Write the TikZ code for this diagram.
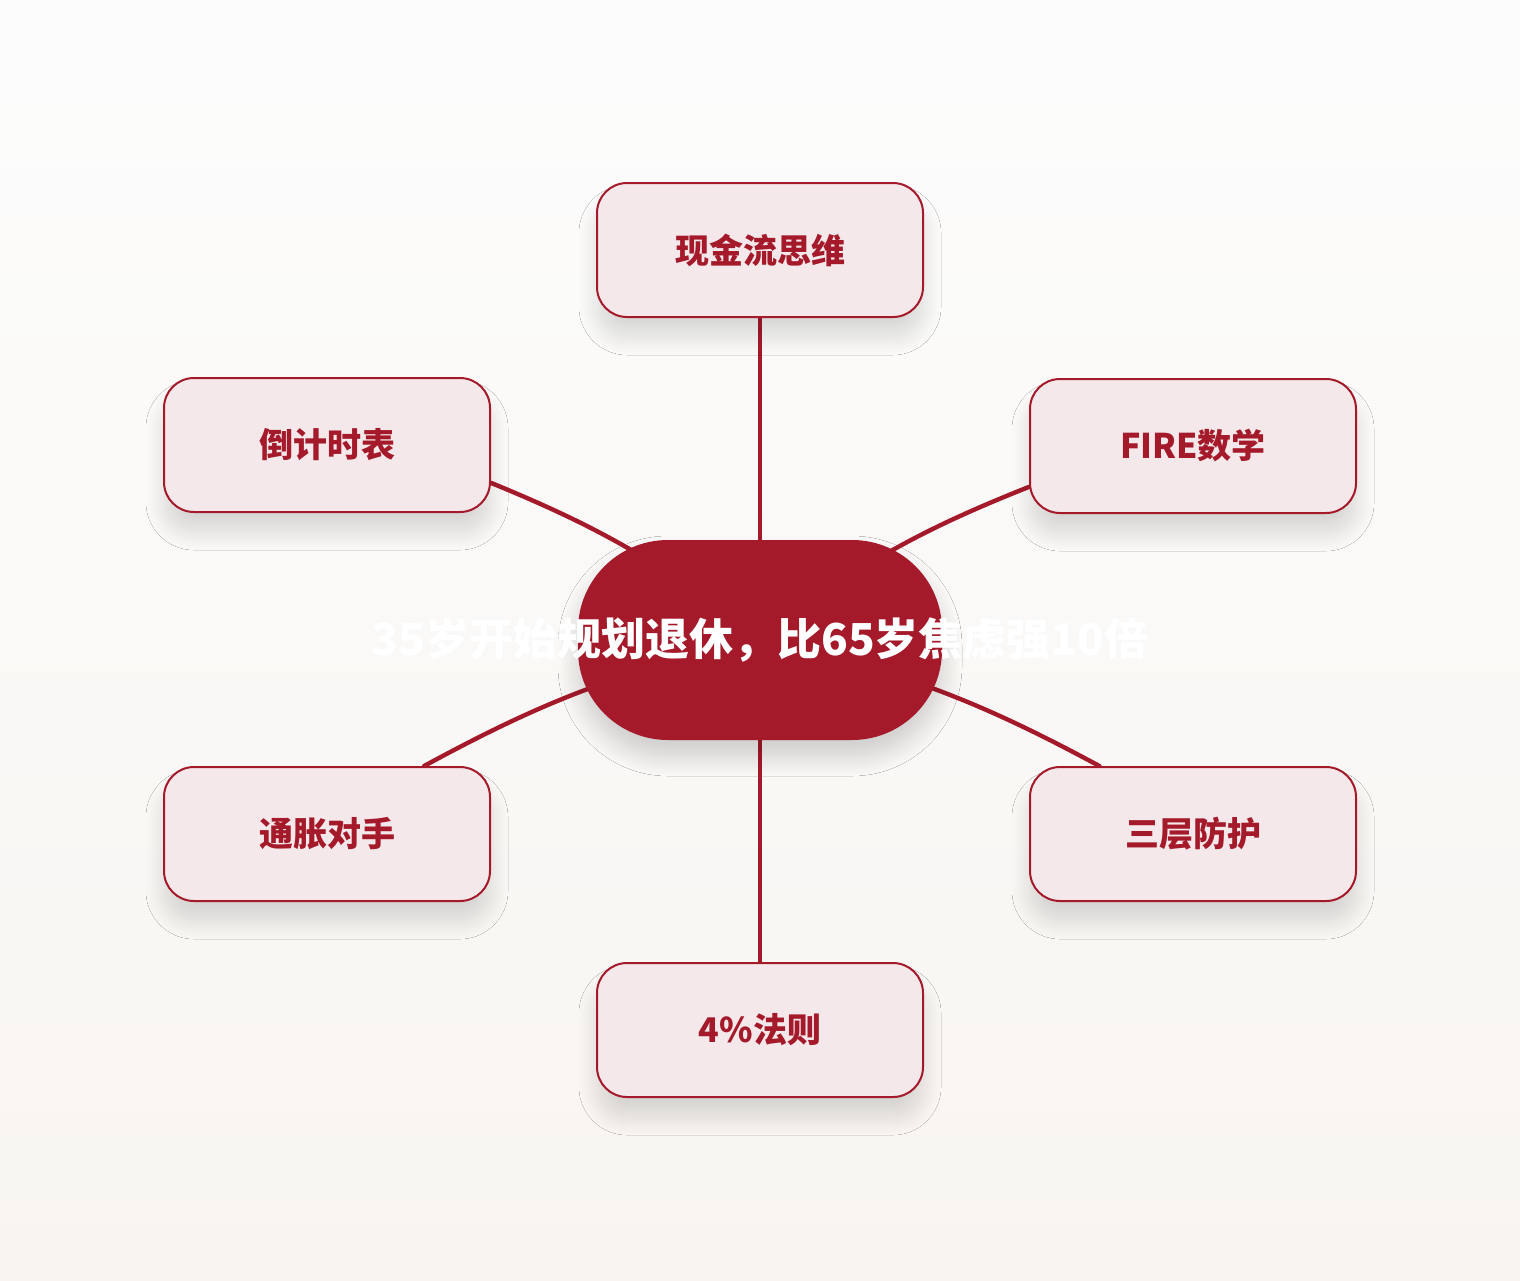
\documentclass[tikz,border=0pt]{standalone}
\usepackage{fontspec}
\setmainfont{Noto Sans CJK SC}
\usetikzlibrary{shadows.blur,backgrounds}
\definecolor{deepred}{HTML}{A51A2A}
\definecolor{palepink}{HTML}{F5E8EB}
\tikzset{idea box/.style={
    draw=deepred, line width=1pt, fill=palepink, rounded corners=15pt,
    minimum width=163pt, minimum height=67pt, inner sep=0pt,
    text=deepred, font=\fontsize{17}{20}\selectfont\bfseries,
    blur shadow={shadow xshift=0pt, shadow yshift=-10pt,
      shadow blur radius=9pt, shadow blur steps=16, shadow opacity=14},
  },
  hub/.style={
    fill=deepred, rounded corners=45pt,
    minimum width=182pt, minimum height=100pt, inner sep=0pt,
    text=white, font=\fontsize{22}{26}\selectfont\bfseries,
    blur shadow={shadow xshift=0pt, shadow yshift=-8pt,
      shadow blur radius=10pt, shadow blur steps=16, shadow opacity=18},
  },
  link/.style={draw=deepred, line width=2.2pt, line cap=round},
}

\begin{document}
\begin{tikzpicture}[x=0.5pt, y=-0.5pt]
\useasboundingbox (0,0) rectangle (1520,1280);
\node[hub] (hub) at (760,640) {\makebox[0pt]{\raisebox{-1pt}{35岁开始规划退休，比65岁焦虑强10倍}}};
\foreach \name/\x/\y/\txt in
  {cash/760/250/现金流思维, clock/327/445/倒计时表, fire/1193/446/FIRE数学,
   infl/327/834/通胀对手, layers/1193/834/三层防护, rule/760/1030/4\%法则}
  \node[idea box] (\name) at (\x,\y) {\txt};
\begin{scope}[on background layer]
\fill[top color=white!99!black, bottom color={rgb,255:red,248;green,245;blue,241}]
  (0,0) rectangle (1520,1280);
\draw[link] (hub.center) -- (cash.south);
\draw[link] (hub.center) to[bend right=8] (clock.-13.5);
\draw[link] (hub.center) to[bend left=8] (fire.-166.2);
\draw[link] (hub.center) to[bend right=8] (infl.35.8);
\draw[link] (hub.center) to[bend left=8] (layers.144.2);
\draw[link] (hub.center) -- (rule.north);
\end{scope}
\end{tikzpicture}
\end{document}
